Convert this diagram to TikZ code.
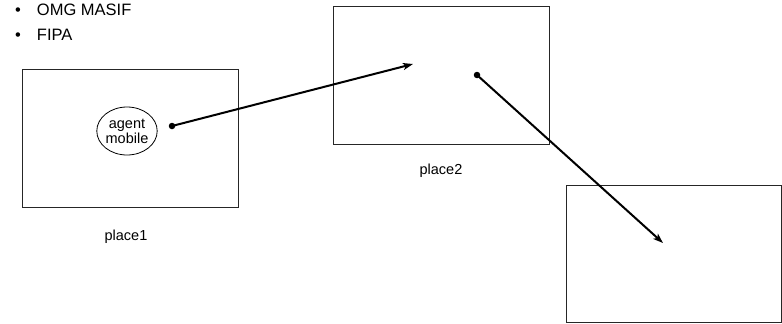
\documentclass[tikz,border=0pt]{standalone}
\usepackage{fontspec}
\setmainfont{Liberation Sans}
\usetikzlibrary{arrows.meta,shapes.geometric}
\begin{document}
\begin{tikzpicture}[x=1pt,y=-1pt,
  place/.style={draw=black!85,line width=1pt},
  lbl/.style={font=\fontsize{14.5}{16}\selectfont,inner sep=0pt},
  bul/.style={font=\fontsize{16.5}{18}\selectfont,inner sep=0pt,anchor=west},
  move/.style={line width=2pt,-{Stealth[length=10pt,width=7pt,inset=2.5pt]}},
  dotstart/.style={circle,fill=black,inner sep=0pt,minimum size=6.5pt}]
\useasboundingbox (0,0) rectangle (782,324);
\node[bul] (b1) at (15,10) {\textbullet\hspace{16pt}OMG MASIF};
\node[bul] (b2) at (15,35) {\textbullet\hspace{16pt}FIPA};
\draw[place] (22,69) rectangle (238,207);
\draw[place] (333,6) rectangle (549,144);
\draw[place] (566,185) rectangle (781,322);
\node[draw,ellipse,line width=0.8pt,minimum width=59pt,minimum height=48pt,inner sep=0pt,align=center,font=\fontsize{14.5}{15}\selectfont] (ag) at (127,131) {agent\\mobile};
\node[lbl] (p1) at (126,237) {place1};
\node[lbl] (p2) at (441,171) {place2};
\node[dotstart] (s1) at (172,126) {};
\coordinate (e1) at (413,64);
\node[dotstart] (s2) at (477,75) {};
\coordinate (e2) at (663,243);
\draw[move] (s1.center) -- (e1);
\draw[move] (s2.center) -- (e2);
\end{tikzpicture}
\end{document}
